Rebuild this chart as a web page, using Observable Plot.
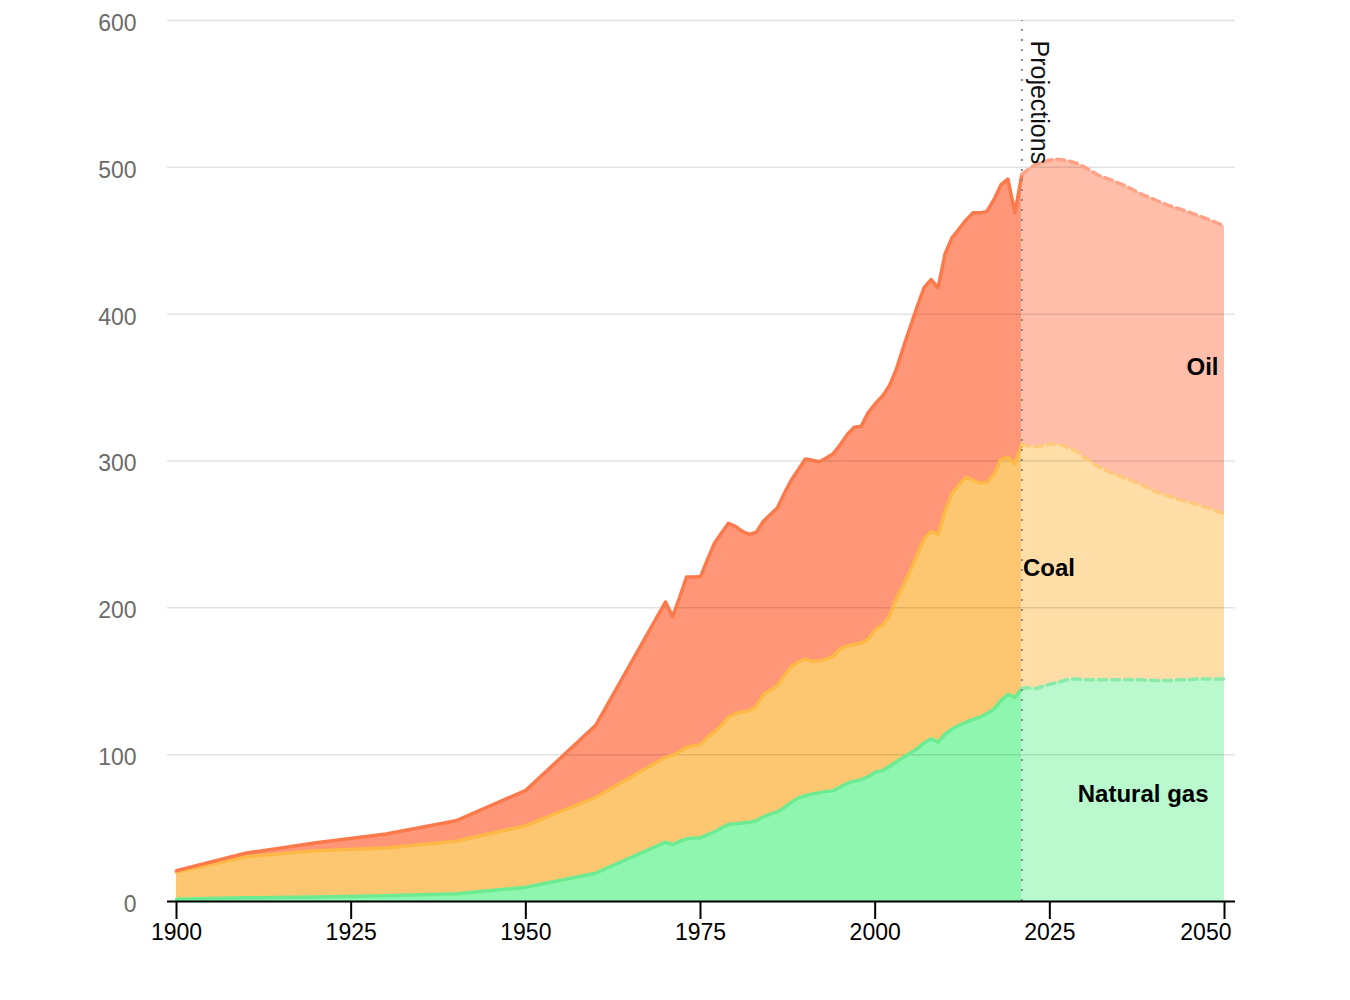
<!DOCTYPE html>
<html>
<head>
<meta charset="utf-8">
<script src="https://cdn.jsdelivr.net/npm/d3@7"></script>
<script src="https://cdn.jsdelivr.net/npm/@observablehq/plot@0.6"></script>
<style>
  html, body { margin: 0; padding: 0; background: #fff; }
  #chart { width: 1350px; height: 1000px; }
</style>
</head>
<body>
<div id="chart"></div>
<script>
// ---------- data ----------
const fuels = ["Natural gas", "Coal", "Oil"];

const histYears = [1900, 1910, 1920, 1930, 1940, 1950, 1960,
  1970, 1971, 1972, 1973, 1974, 1975, 1976, 1977, 1978, 1979,
  1980, 1981, 1982, 1983, 1984, 1985, 1986, 1987, 1988, 1989,
  1990, 1991, 1992, 1993, 1994, 1995, 1996, 1997, 1998, 1999,
  2000, 2001, 2002, 2003, 2004, 2005, 2006, 2007, 2008, 2009,
  2010, 2011, 2012, 2013, 2014, 2015, 2016, 2017, 2018, 2019,
  2020, 2021];

const histGas = [1.5, 2.5, 3, 4, 5.2, 9.7, 19.3,
  40.4, 38.8, 41, 42.7, 43.2, 43.4, 45.5, 47.5, 50, 52.5,
  53, 53.5, 54, 55, 57.7, 59.5, 61, 64, 67.5, 70.5,
  72, 73.3, 74, 75, 75.5, 78, 80.5, 82, 83, 85,
  88, 89, 92, 95, 98, 101, 104, 108, 110.8, 108.5,
  114, 117.5, 120, 122, 124, 125.5, 128, 131, 137, 141,
  139, 145];

const histCoal = [18.5, 28, 31.5, 32.5, 35.8, 42, 51.7,
  57.9, 60.6, 61, 62.3, 62.8, 63.6, 66.5, 68, 70, 73,
  75, 75.5, 76, 78, 83.3, 84.5, 86, 90, 92.5, 92.5,
  93, 90.2, 90, 90, 91.5, 94, 93.5, 93, 93, 93.5,
  97, 99, 102, 111, 117, 124, 132, 139, 141.2, 141.5,
  152, 160.5, 164, 167, 163, 159.5, 157.5, 160, 164, 161.5,
  159, 166.6];

const histOil = [1, 2.5, 5.5, 9.5, 14, 24, 49,
  105.7, 94.6, 105, 116, 115, 114.3, 121, 128.5, 131, 132.1,
  127.5, 123, 120, 118.5, 118, 119.5, 121, 124, 127, 131,
  136.4, 137, 135.5, 137, 138, 139, 144, 148, 147.6, 154.5,
  154, 156, 157, 156, 162, 166, 169, 171, 171.5, 168,
  175, 174, 174, 175, 182, 184, 184.5, 187, 187, 189.5,
  171, 183.4];

const projYears = [2021, 2022, 2023, 2024, 2025, 2026, 2027, 2028, 2029, 2030,
  2032, 2034, 2036, 2038, 2040, 2042, 2044, 2046, 2048, 2050];

const projGas = [145, 145.5, 145, 146.5, 148, 149, 150.5, 151.5, 151.5, 151,
  151, 151, 151, 151, 150.5, 150.5, 151, 151.5, 151.5, 151.5];

const projCoal = [166.6, 164.5, 164.8, 164, 163.5, 162.6, 160, 157, 154.5, 151,
  145, 140.5, 137, 133, 129, 125.5, 122, 119, 116, 112.5];

const projOil = [183.4, 189, 192.2, 193, 193.5, 193.9, 194.5, 195.5, 196.5, 198,
  198.5, 199.5, 199, 198, 198.5, 198, 198, 197, 196.5, 196];

const xTicks = [1900, 1925, 1950, 1975, 2000, 2025, 2050];
const yTicks = [0, 100, 200, 300, 400, 500, 600];
const projectionLabel = "Projections";

// ---------- styles ----------
const fillHist   = {"Natural gas": "#8ef6ae", "Coal": "#fdc771", "Oil": "#ff9677"};
const strokeHist = {"Natural gas": "#6deb93", "Coal": "#fdb845", "Oil": "#fb7a4c"};
const fillProj   = {"Natural gas": "#b9f9cd", "Coal": "#fedda7", "Oil": "#ffbea9"};
const strokeProj = {"Natural gas": "#8aeaaa", "Coal": "#ffc97c", "Oil": "#ffa286"};

// ---------- tables ----------
function rows(years, series) {
  return fuels.flatMap(f => years.map((year, i) => ({year, fuel: f, value: series[f][i]})));
}
const hist = rows(histYears, {"Natural gas": histGas, "Coal": histCoal, "Oil": histOil});
const proj = rows(projYears, {"Natural gas": projGas, "Coal": projCoal, "Oil": projOil});

const splitYear = histYears[histYears.length - 1];
const lastYear = projYears[projYears.length - 1];
const nL = projYears.length - 1;

const st = (extra) => ({x: "year", y: "value", z: "fuel", order: fuels, ...extra});

const font = "'Liberation Sans', Arial, Helvetica, sans-serif";

const chart = Plot.plot({
  width: 1350,
  height: 1000,
  marginTop: 20,
  marginBottom: 99,
  marginLeft: 167,
  marginRight: 115,
  style: {fontFamily: font, background: "#fff", overflow: "visible"},
  x: {domain: [1900, 2050], insetLeft: 9, insetRight: 11},
  y: {domain: [0, 600]},
  color: {type: "identity"},
  marks: [
    Plot.areaY(hist, Plot.stackY(st({fill: d => fillHist[d.fuel]}))),
    Plot.areaY(proj, Plot.stackY(st({fill: d => fillProj[d.fuel]}))),
    Plot.gridY(yTicks, {stroke: "#000", strokeOpacity: 0.11, strokeWidth: 1.5}),
    Plot.lineY(hist, Plot.stackY2(st({stroke: d => strokeHist[d.fuel], strokeWidth: 3.5, strokeLinejoin: "round"}))),
    Plot.lineY(proj, Plot.stackY2(st({stroke: d => strokeProj[d.fuel], strokeWidth: 3.5, strokeDasharray: "8,5"}))),
    Plot.ruleX([splitYear], {y1: 0, y2: 600, stroke: "#888", strokeWidth: 2, strokeDasharray: "2,8"}),
    Plot.ruleY([0], {stroke: "#000", strokeWidth: 2}),
    Plot.axisY(yTicks, {tickSize: 0, tickPadding: 31, fontSize: 23, color: "#6b6b6b", dy: 3, label: null}),
    Plot.axisX(xTicks, {tickSize: 18, tickPadding: 4, fontSize: 23, color: "#000", strokeWidth: 2,
      tickFormat: d => d === lastYear ? "" : String(d), label: null}),
    Plot.text([lastYear], {x: d => d, frameAnchor: "bottom", lineAnchor: "top", dy: 22, dx: 7,
      textAnchor: "end", text: d => String(d), fontSize: 23, fill: "#000"}),
    Plot.text([projectionLabel], {x: splitYear, y: 600, rotate: 90, textAnchor: "start", lineAnchor: "bottom",
      dx: 9, dy: 20, text: d => d, fontSize: 25, fill: "#111"}),
    Plot.text(["Oil"], {x: lastYear, y: projGas[nL] + projCoal[nL] + projOil[nL] / 2, text: d => d,
      textAnchor: "end", dx: -6, dy: -3, fontSize: 24, fontWeight: "bold", fill: "#000"}),
    Plot.text(["Coal"], {x: splitYear, y: histGas[histGas.length - 1] + histCoal[histCoal.length - 1] / 2, text: d => d,
      textAnchor: "start", dx: 1, dy: 2, fontSize: 24, fontWeight: "bold", fill: "#000"}),
    Plot.text(["Natural gas"], {x: lastYear, y: projGas[nL] / 2, text: d => d,
      textAnchor: "end", dx: -16, dy: 4, fontSize: 24, fontWeight: "bold", fill: "#000"})
  ]
});
document.getElementById("chart").appendChild(chart);
</script>
</body>
</html>
